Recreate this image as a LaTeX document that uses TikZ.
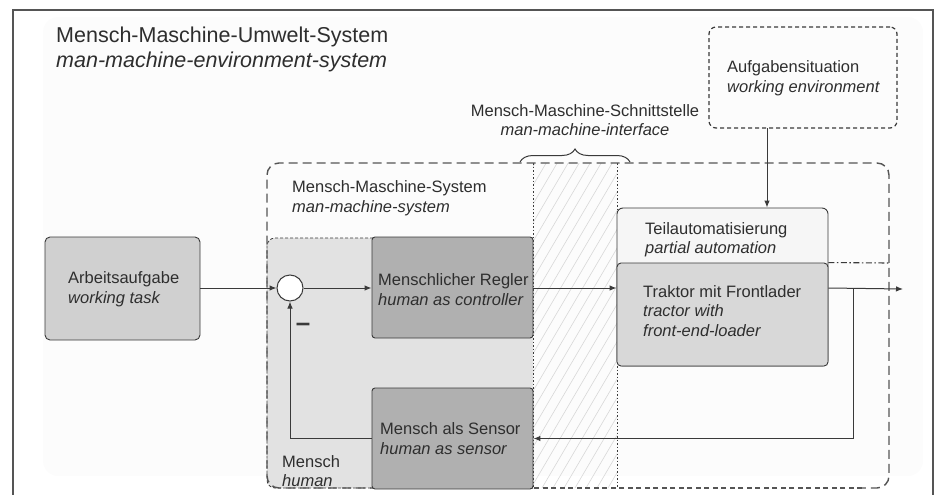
\documentclass[tikz,border=0pt]{standalone}
\usepackage{fontspec}
\setmainfont{Liberation Sans}
\usetikzlibrary{arrows.meta,decorations.pathreplacing,calc}
\definecolor{linec}{HTML}{3A3A3A}
\definecolor{framec}{HTML}{555555}
\definecolor{darkbox}{HTML}{B0B0B0}
\definecolor{midbox}{HTML}{D0D0D0}
\definecolor{tractbox}{HTML}{D8D8D8}
\definecolor{humanfill}{HTML}{E2E2E2}
\definecolor{autofill}{HTML}{F6F6F6}
\definecolor{hatchc}{HTML}{D8D8D8}
\definecolor{textc}{HTML}{2E2E2E}
\definecolor{bgc}{HTML}{FCFCFC}
\begin{document}
\begin{tikzpicture}[x=1pt,y=-1pt,
  lbl/.style={font=\fontsize{16.5}{19.5}\selectfont, align=left, inner sep=0pt, anchor=west, text=textc},
  ttl/.style={font=\fontsize{21.5}{25}\selectfont, align=left, inner sep=0pt, anchor=west, text=textc},
  conn/.style={draw=linec, line width=1pt, -{Latex[length=7pt,width=5.5pt]}},
  blockbox/.style={draw=linec, line width=0.9pt, rounded corners=3pt, inner sep=0pt},
  mmsline/.style={draw=framec, line width=1.4pt, dash pattern=on 9pt off 5pt},
  bottomdash/.style={draw=framec, line width=2pt, dash pattern=on 5pt off 3.5pt},
  finedash/.style={draw=linec, line width=0.8pt, dash pattern=on 3pt off 2pt},
  dotline/.style={draw=linec, line width=0.8pt, dash pattern=on 1.5pt off 2pt},
]
\useasboundingbox (0,0) rectangle (937,495);
% faint background
\fill[bgc, rounded corners=15pt] (43,17) rectangle (923,476);
% outer frame (open at the bottom)
\draw[framec, line width=1.5pt] (13,495) -- (13,10) -- (933,10) -- (933,495);

% title
\node[ttl] (title) at (56,49.5) {Mensch-Maschine-Umwelt-System\\\textit{man-machine-environment-system}};

% human region
\fill[humanfill, rounded corners=8pt] (267,238) rectangle (533,488);
\draw[finedash, rounded corners=8pt] (533,238) -- (267,238) -- (267,488) -- (533,488);

% hatched interface region
\begin{scope}
  \clip (533,163) rectangle (617,488);
  \foreach \i in {0,...,50} {
    \draw[hatchc, line width=0.6pt] ({533+\i*11-200},488) -- ++(200,-340);
  }
\end{scope}
\draw[dotline] (533,163) -- (533,488);
\draw[dotline] (617,163) -- (617,488);

% man-machine-system box
\draw[mmsline, rounded corners=12pt] (533,488) -- (267,488) -- (267,163) -- (889,163) -- (889,488) -- (862,488);
\draw[bottomdash] (862,488) -- (533,488);

% brace and interface label
\draw[linec, line width=1pt, decorate, decoration={brace, amplitude=13pt}] (520,162) -- (630,162);
\node[lbl, align=center, anchor=center] (mmitxt) at (585,120) {Mensch-Maschine-Schnittstelle\\\textit{man-machine-interface}};

% MMS label
\node[lbl] (mmstxt) at (292,198) {Mensch-Maschine-System\\\textit{man-machine-system}};

% environment box
\node[draw=linec, line width=1.2pt, dash pattern=on 4pt off 3pt, rounded corners=7pt,
      minimum width=188pt, minimum height=101pt, inner sep=0pt] (env) at (803,77.5) {};
\node[lbl] (envtxt) at (727,78) {Aufgabensituation\\\textit{working environment}};

% working task
\node[blockbox, fill=midbox, rounded corners=5pt, minimum width=155pt, minimum height=103pt] (task) at (122.5,288.5) {};
\node[lbl] (tasktxt) at (68,289) {Arbeitsaufgabe\\\textit{working task}};

% summing point
\node[circle, draw=linec, fill=white, line width=1pt, minimum size=26pt, inner sep=0pt] (sum) at (290,288) {};
\node[font=\fontsize{26}{26}\selectfont\bfseries, inner sep=0pt, text=linec] (minus) at (303,327) {–};

% controller and sensor
\node[blockbox, fill=darkbox, minimum width=161pt, minimum height=101pt] (ctrl) at (452.5,287.5) {};
\node[lbl] (ctrltxt) at (378,289.5) {Menschlicher Regler\\\textit{human as controller}};
\node[blockbox, fill=darkbox, minimum width=161pt, minimum height=101pt] (sensor) at (452.5,438.5) {};
\node[lbl] (senstxt) at (380,438.5) {Mensch als Sensor\\\textit{human as sensor}};
\node[lbl] (humantxt) at (282,471) {Mensch\\\textit{human}};

% partial automation and tractor
\node[blockbox, fill=autofill, rounded corners=6pt, minimum width=211pt, minimum height=158pt] (auto) at (722.5,287) {};
\node[blockbox, fill=tractbox, rounded corners=4pt, minimum width=211pt, minimum height=103pt] (tractor) at (722.5,314.5) {};
\node[lbl] (autotxt) at (645,239.5) {Teilautomatisierung\\\textit{partial automation}};
\node[lbl] (tractxt) at (643,311) {Traktor mit Frontlader\\\textit{tractor with}\\\textit{front-end-loader}};

% dash-dot continuation
\coordinate (dd) at (889,263);
\draw[linec, line width=1.1pt, dash pattern=on 6pt off 2.5pt on 1.5pt off 2.5pt] (tractor.north east) -- (dd);

% connectors
\coordinate (out) at (903,289);
\coordinate (branch) at (853,289);
\coordinate (ea) at (767,128);
\draw[conn] (task.east |- sum.west) -- (sum.west);
\draw[conn] (sum.east) -- (ctrl.west |- sum.east);
\draw[conn] (ctrl.east |- sum.east) -- (tractor.west |- sum.east);
\draw[conn] (tractor.east |- sum.east) -- (out);
\draw[conn] (branch |- sum.east) |- (sensor.east);
\draw[conn] (sensor.west) -| (sum.south);
\draw[conn] (ea) -- (ea |- auto.north);
\end{tikzpicture}
\end{document}
